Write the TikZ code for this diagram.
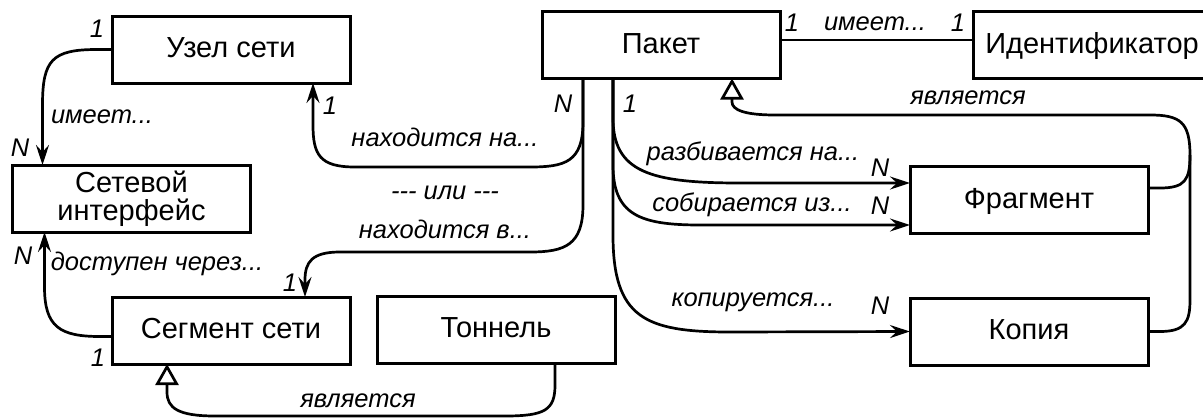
\documentclass[tikz,border=0pt]{standalone}
\usepackage{fontspec}
\setmainfont{Liberation Sans}
\usetikzlibrary{arrows.meta,calc}

\begin{document}
\begin{tikzpicture}[x=1pt,y=-1pt,
  entity/.style={draw, line width=3pt, minimum width=238pt, minimum height=67pt,
    inner sep=0pt, outer sep=0pt, font=\fontsize{29}{29}\selectfont,
    text height=20.8pt, text depth=4.8pt},
  lbl/.style={font=\fontsize{25.5}{25.5}\selectfont\itshape, anchor=base, inner sep=0pt},
  conn/.style={line width=2.7pt},
  arr/.style={conn, -{Stealth[length=20pt,width=13pt,inset=7pt]}},
  isa/.style={conn, -{Triangle[open,length=21pt,width=23pt,fill=white]}},
]
\useasboundingbox (0,0) rectangle (1203,418);

% entities
\node[entity] (uzel) at (231,49.5) {Узел сети};
\node[entity, align=center, font=\fontsize{29}{28}\selectfont,
      text height=48.8pt, text depth=4.8pt] (iface) at (131.5,198.5) {Сетевой\\интерфейс};
\node[entity] (seg) at (231,330.5) {Сегмент сети};
\node[entity] (tun) at (496,329.5) {Тоннель};
\node[entity] (pak) at (661,45) {Пакет};
\node[entity] (ident) at (1092,45) {Идентификатор};
\node[entity] (frag) at (1029,200) {Фрагмент};
\node[entity] (kop) at (1029,331.5) {Копия};

% attachment points under the packet box
\coordinate (pN) at ($(pak.south west)+(41,0)$);
\coordinate (pR) at ($(pak.south west)+(71,0)$);

% node -> interface
\draw[arr] (uzel.west) -- ++(-15,0) .. controls +(-45,0) and +(0,-45) ..
  ($(iface.north west)+(30,-60)$) -- ($(iface.north west)+(30,0)$);
% segment -> interface
\draw[arr] ($(seg.west)+(0,6)$) -- ++(-12,0) .. controls +(-40,0) and +(0,40) ..
  ($(iface.south west)+(32,55)$) -- ($(iface.south west)+(32,0)$);

% packet located on a node / in a segment
\draw[arr] (pN) -- (583,122) .. controls (583,162) and (565,167) .. (530,167)
  -- (355,167) .. controls (320,167) and (313,155) .. (313,125)
  -- ($(uzel.south east)+(-37,0)$);
\draw[arr] (pN) -- (583,205) .. controls (583,245) and (565,252) .. (530,252)
  -- (340,252) .. controls (312,252) and (305,262) .. (305,280)
  -- ($(seg.north east)+(-45,0)$);

% packet -- identifier
\draw[conn] ([yshift=5pt]pak.east) -- ([yshift=5pt]ident.west);

% packet -> fragment / copy
\draw[arr] (pR) -- (613,118) .. controls (613,172) and (650,183) .. (740,183)
  -- ($(frag.west)+(0,-17)$);
\draw[arr] (pR) -- (613,165) .. controls (613,215) and (640,225) .. (700,225)
  -- ($(frag.west)+(0,25)$);
\draw[arr] (pR) -- (613,235) .. controls (613,318) and (645,332) .. (730,332)
  -- (kop.west);

% generalisation: fragment and copy are packets
\draw[isa] ($(frag.east)+(0,-12)$) -- (1160,188) .. controls (1185,188) and (1190,180) .. (1190,155)
  .. controls (1190,122) and (1180,115) .. (1150,115) -- (775,115)
  .. controls (745,115) and (732,110) .. (732,102) -- ($(pak.south east)+(-48,0)$);
\draw[conn] (kop.east) -- (1160,331.5) .. controls (1185,331.5) and (1190,322) .. (1190,300)
  -- (1190,155);

% generalisation: tunnel is a segment
\draw[isa] ($(tun.south)+(59,0)$) -- (555,385) .. controls (555,410) and (545,416) .. (505,416)
  -- (215,416) .. controls (178,416) and (167,408) .. (167,392)
  -- ($(seg.south west)+(55,0)$);

% labels
\node[lbl] (m1) at (97,37) {1};
\node[lbl] (m2) at (102,123.5) {имеет...};
\node[lbl] (m3) at (20,156) {N};
\node[lbl] (m4) at (330,114) {1};
\node[lbl] (m5) at (563,112) {N};
\node[lbl] (m6) at (630,112) {1};
\node[lbl] (m7) at (445,146.5) {находится на...};
\node[lbl] (m8) at (445,199.5) {-\kern0pt-\kern0pt- или -\kern0pt-\kern0pt-};
\node[lbl] (m9) at (445,238.5) {находится в...};
\node[lbl] (m10) at (290,291) {1};
\node[lbl] (m11) at (23,264) {N};
\node[lbl] (m12) at (157,270) {доступен через...};
\node[lbl] (m13) at (98,366) {1};
\node[lbl] (m14) at (358,407) {является};
\node[lbl] (m15) at (792,31) {1};
\node[lbl] (m16) at (875,30) {имеет...};
\node[lbl] (m17) at (958,31) {1};
\node[lbl] (m18) at (968,104.5) {является};
\node[lbl] (m19) at (753,160.5) {разбивается на...};
\node[lbl] (m20) at (880,176) {N};
\node[lbl] (m21) at (752,211.5) {собирается из...};
\node[lbl] (m22) at (880,214) {N};
\node[lbl] (m23) at (753,306.5) {копируется...};
\node[lbl] (m24) at (880,314) {N};
\end{tikzpicture}
\end{document}
